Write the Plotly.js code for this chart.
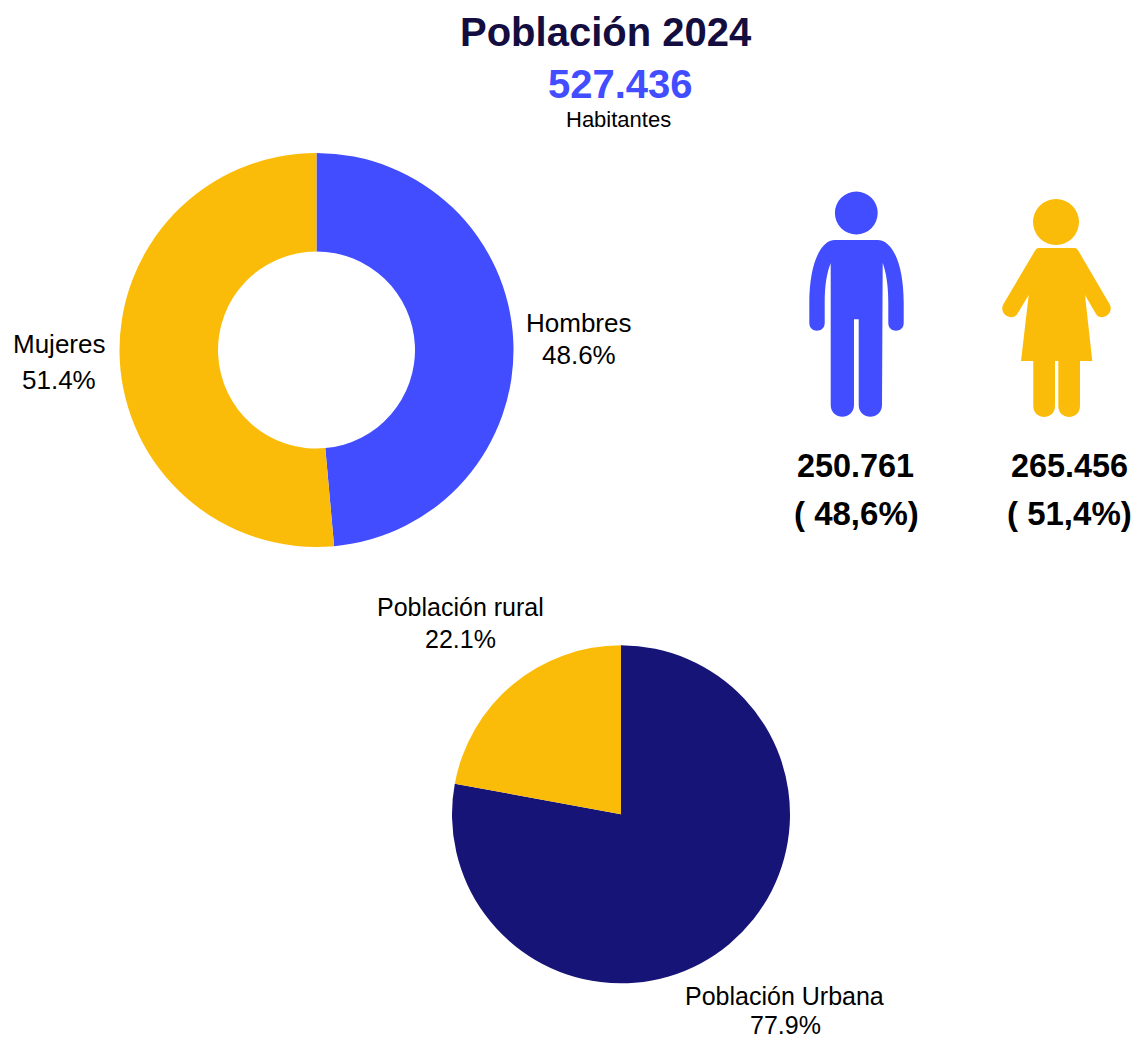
<!DOCTYPE html>
<html><head><meta charset="utf-8">
<script src="https://cdn.plot.ly/plotly-3.0.1.min.js"></script>
<style>html,body{margin:0;padding:0;background:#fff}#c{width:1133px;height:1038px}</style>
</head><body><div id="c"></div>
<script>
const W = 1133, H = 1038;
const sexLabels = ['Hombres', 'Mujeres'];
const sexValues = [250761, 265456];
const sexColors = ['#414DFF', '#FBBC09'];
const areaLabels = ['Población Urbana', 'Población rural'];
const areaValues = [77.9, 22.1];
const areaColors = ['#171478', '#FBBC09'];
const FONT = 'Liberation Sans, Arial, sans-serif';

function dom(cx, cy, r) {
  return {x: [(cx - r) / W, (cx + r) / W], y: [1 - (cy + r) / H, 1 - (cy - r) / H]};
}
function px(x) { return x / W; }
function py(y) { return 1 - y / H; }
function toPaper(path) {
  return path.replace(/(-?[\d.]+),(-?[\d.]+)/g, (m, x, y) => px(+x).toFixed(5) + ',' + py(+y).toFixed(5));
}
function circle(cx, cy, r, color) {
  return {type: 'circle', xref: 'paper', yref: 'paper', x0: px(cx - r), x1: px(cx + r), y0: py(cy + r), y1: py(cy - r),
    fillcolor: color, line: {width: 0}};
}
function icon(path, color) {
  return {type: 'path', xref: 'paper', yref: 'paper', path: toPaper(path), fillcolor: color, line: {width: 0}};
}
function pct(values, i) {
  return (values[i] / values.reduce((a, b) => a + b, 0) * 100).toFixed(1) + '%';
}
const manPath = 'M835,240 L877.3,240 C893,240 903.7,265 903.7,303 L903.7,323 C903.7,333.3 888.3,333.3 888.3,323 L888.3,303 C888.3,285 886,272 882.7,263 L882,405 C882,420.5 858.7,420.5 858.7,405 L858.7,319.3 L854,319.3 L854,405 C854,420.5 830.7,420.5 830.7,405 L830.7,263.3 C827,272 824.7,285 824.7,303 L824.7,323 C824.7,333.3 809.3,333.3 809.3,323 L809.3,303 C809.3,265 820,240 835,240 Z';
const womanPath = 'M1038.3,248 L1075,248 Q1077,248 1078.3,250.7 L1109.5,304 C1115,314 1101,322 1096,314 L1085,295 L1092.3,361 L1080,361 L1080,406 C1080,420.5 1058.3,420.5 1058.3,406 L1058.3,361 L1055,361 L1055,406 C1055,420.5 1033.3,420.5 1033.3,406 L1033.3,361 L1021,361 L1028.7,295 L1017.3,314 C1012,322 998,314 1003.5,304 L1035,250.7 Q1036.3,248 1038.3,248 Z';

function txt(text, x, y, size, color, bold) {
  return {text: bold ? '<b>' + text + '</b>' : text, xref: 'paper', yref: 'paper', x: px(x), y: py(y),
    xanchor: 'center', yanchor: 'middle', showarrow: false, font: {family: FONT, size: size, color: color}};
}

const data = [
  {type: 'pie', labels: sexLabels, values: sexValues, marker: {colors: sexColors}, hole: 0.5, sort: false,
   direction: 'clockwise', rotation: 0, textinfo: 'none', domain: dom(316.5, 350, 197), showlegend: false},
  {type: 'pie', labels: areaLabels, values: areaValues, marker: {colors: areaColors}, sort: false,
   direction: 'clockwise', rotation: 0, textinfo: 'none', domain: dom(621, 814.3, 169), showlegend: false}
];
const layout = {
  width: W, height: H, margin: {l: 0, r: 0, t: 0, b: 0}, paper_bgcolor: '#fff', showlegend: false,
  font: {family: FONT},
  annotations: [
    txt('Población 2024', 606, 32, 40, '#140D3F', true),
    txt('527.436', 620.5, 84, 40, '#414DFF', true),
    txt('Habitantes', 618, 120, 22, '#000', false),
    txt('250.761', 855.5, 466, 32.4, '#000', true),
    txt('( 48,6%)', 856.5, 513, 33, '#000', true),
    txt('265.456', 1069, 466, 32.4, '#000', true),
    txt('( 51,4%)', 1069.5, 513, 33, '#000', true),
    txt(sexLabels[0], 578.5, 323, 26, '#000', false),
    txt(pct(sexValues, 0), 579, 355, 26, '#000', false),
    txt(sexLabels[1], 59, 344, 26, '#000', false),
    txt(pct(sexValues, 1), 59, 380, 26, '#000', false),
    txt(areaLabels[1], 460, 607, 25, '#000', false),
    txt(pct(areaValues, 1), 460, 639, 25, '#000', false),
    txt(areaLabels[0], 784, 996, 25, '#000', false),
    txt(pct(areaValues, 0), 785, 1025, 25, '#000', false)
  ],
  shapes: [
    circle(856.3, 213, 21.4, sexColors[0]),
    icon(manPath, sexColors[0]),
    circle(1056, 222, 23, sexColors[1]),
    icon(womanPath, sexColors[1])
  ]
};
Plotly.newPlot('c', data, layout, {displayModeBar: false, responsive: false});
</script></body></html>
